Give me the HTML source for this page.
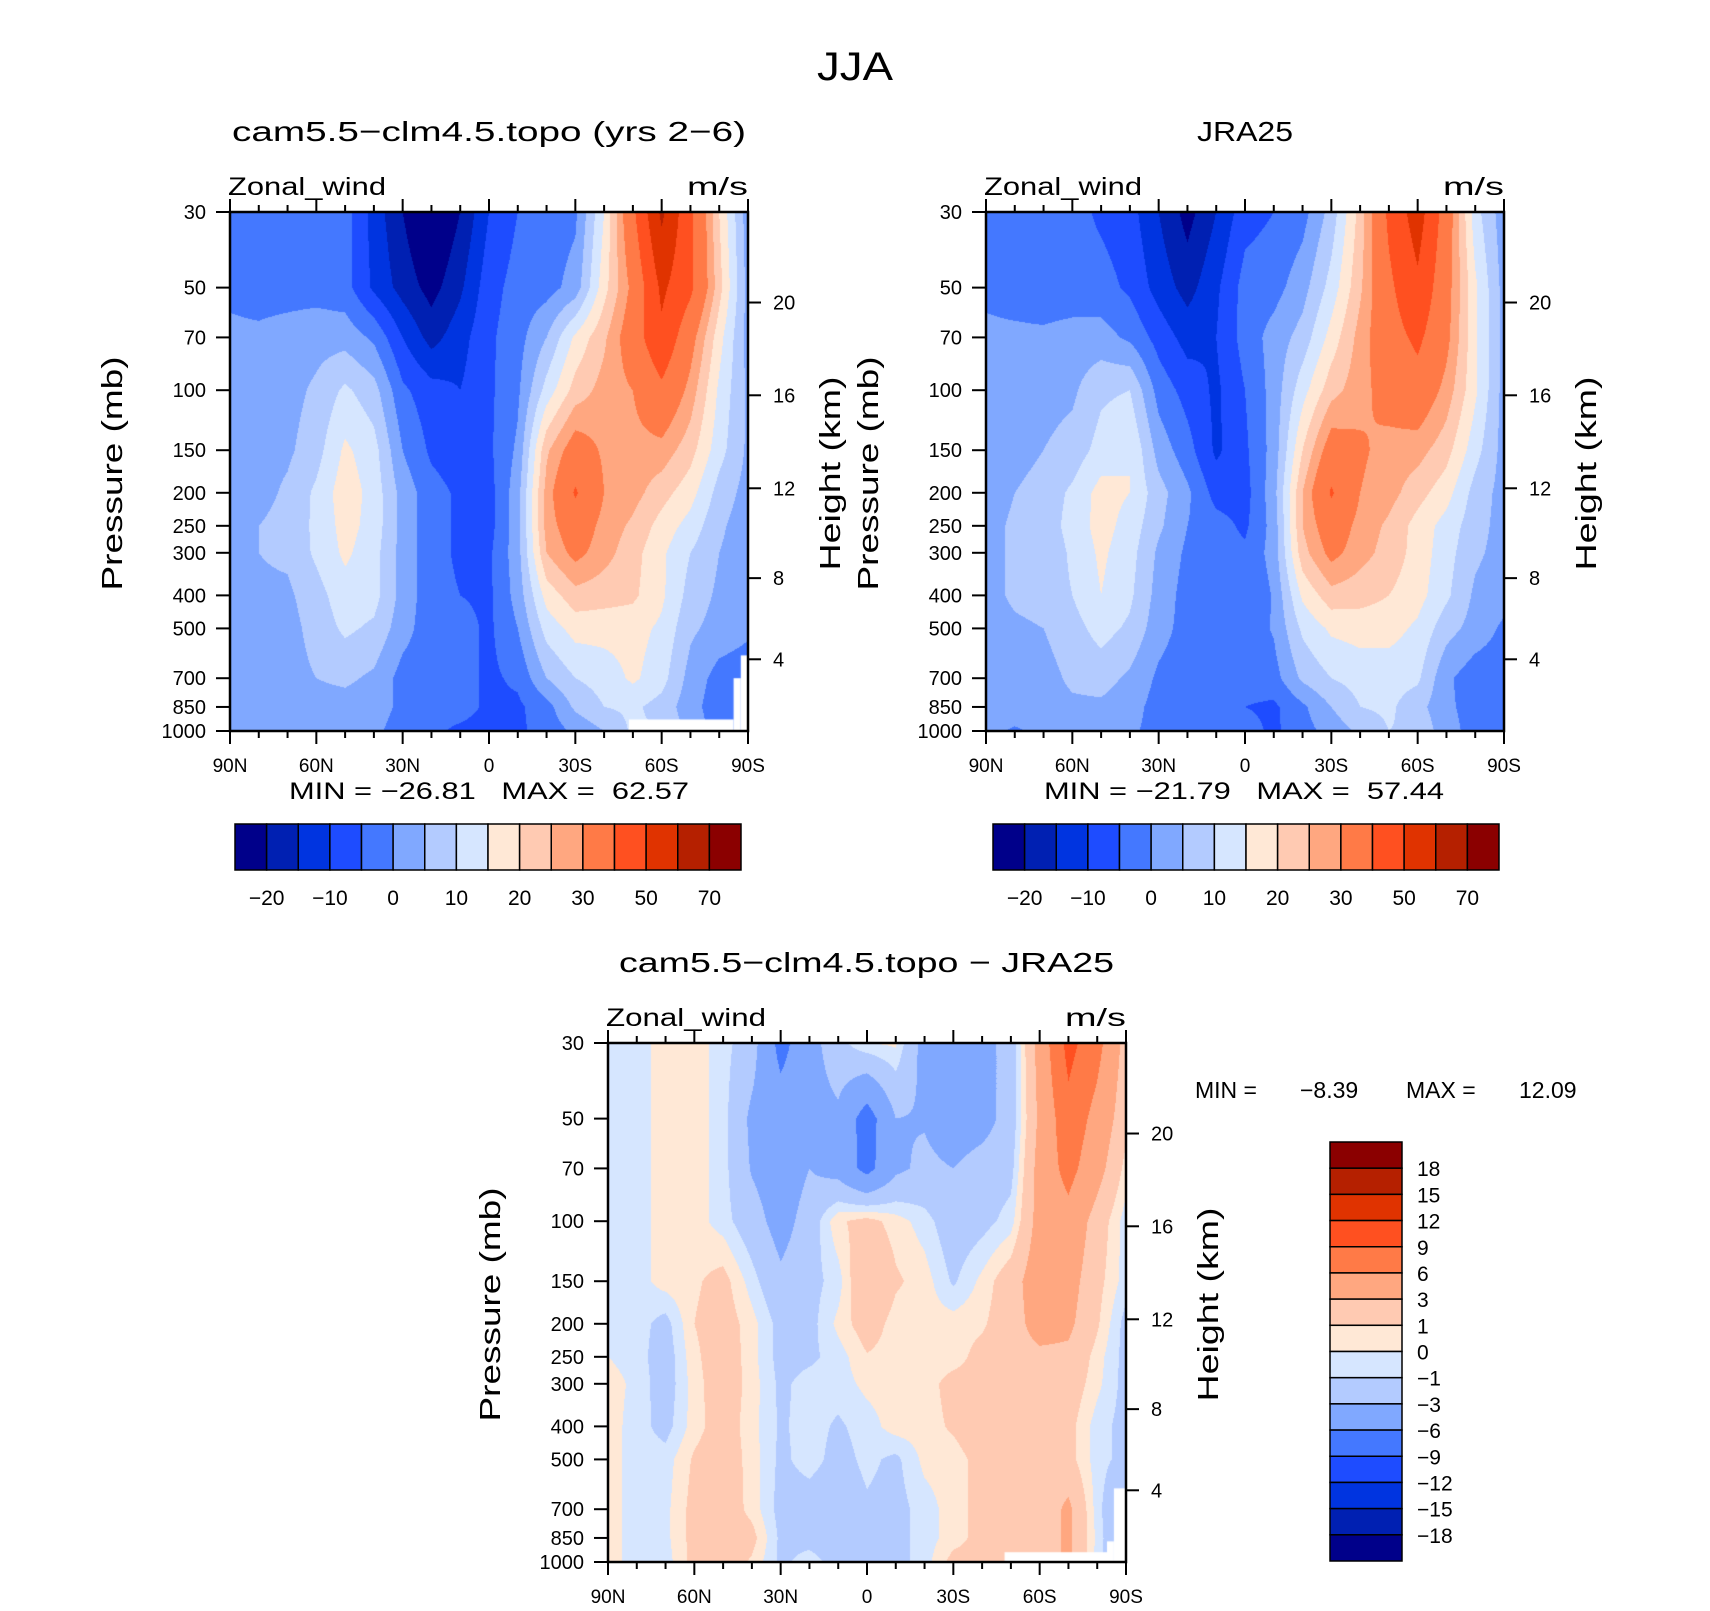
<!DOCTYPE html>
<html><head><meta charset="utf-8">
<style>
html,body{margin:0;padding:0;background:#fff;}
#wrap{position:relative;width:1710px;height:1611px;overflow:hidden;background:#fff;}
canvas{position:absolute;}
svg{position:absolute;left:0;top:0;}
text{font-family:"Liberation Sans",sans-serif;fill:#000;}
</style></head><body>
<div id="wrap">
<canvas id="c1"></canvas>
<canvas id="c2"></canvas>
<canvas id="c3"></canvas>
<svg id="ov" width="1710" height="1611">
<text x="855" y="80" text-anchor="middle" font-size="40" textLength="76" lengthAdjust="spacingAndGlyphs">JJA</text>
<text x="232" y="141" font-size="28" textLength="514" lengthAdjust="spacingAndGlyphs">cam5.5−clm4.5.topo (yrs 2−6)</text>
<text x="1197" y="141" font-size="28" textLength="96" lengthAdjust="spacingAndGlyphs">JRA25</text>
<text x="619" y="972" font-size="28" textLength="495" lengthAdjust="spacingAndGlyphs">cam5.5−clm4.5.topo − JRA25</text>
</svg>
</div>
<script>
// ---------- data ----------
const lats = [90,80,70,60,50,40,30,20,10,0,-10,-20,-30,-40,-50,-60,-70,-80,-90];
const levels = [30,50,70,100,150,200,250,300,400,500,700,850,1000];
const modelU = [
[-3,-3,-3,-3,-3,-12,-20,-27,-20,-10,-5,-3,-1,15,38,62,42,20,2],
[-1,-2,-2,-2,-3,-11,-17,-22,-16,-7,-3,-2,2,18,32,52,42,22,3],
[1,1,2,3,3,-1,-10,-17,-12,-6,-2,5,16,24,35,48,33,17,3],
[2,2,3,6,11,7,-4,-8,-10,-6,-1,12,22,27,30,38,28,14,4],
[2,3,4,8,16,12,0,-6,-8,-6,1,24,34,29,28,28,22,12,4],
[2,3,6,11,18,13,3,-3,-6,-7,3,27,41,30,27,22,17,8,3],
[2,5,7,11,17,13,3,-3,-6,-7,3,27,35,28,24,18,13,6,2],
[2,5,6,11,16,12,3,-3,-6,-6,3,25,32,27,22,16,10,5,2],
[2,4,4,8,13,12,3,-3,-5,-6,2,17,23,22,21,16,8,4,1],
[2,3,3,7,11,9,2,-3,-3,-6,0,12,17,17,17,14,6,3,1],
[2,2,3,5,6,4,-2,-3,-3,-6,-4,5,10,12,16,12,3,-2,-3],
[2,2,2,3,3,2,-1,-3,-3,-6,-6,-2,6,10,11,8,2,-3,-2],
[1,0.5,0.5,1,1,1,-2,-4,-6,-7,-6,-3,1,5,11,10,3,-2,-2]];
const obsU = [
[-3,-3,-3,-3,-6,-8,-15,-22,-15,-7,-5,-2,7,22,42,55,35,12,2],
[-1,-2,-3,-3,-3,-6,-12,-17,-11,-3,-2,3,12,24,38,48,33,16,3],
[1,1,1,2,2,-1,-7,-12,-10,-3,2,7,17,27,36,42,32,16,3],
[2,3,3,4,9,10,-2,-7,-11,-5,2,13,23,28,33,36,28,16,3],
[2,3,5,7,12,15,3,-3,-11,-6,2,20,34,31,28,27,22,12,3],
[2,5,7,11,17,15,7,1,-7,-7,3,25,41,30,27,22,17,8,3],
[3,6,7,12,17,13,6,0,-3,-6,2,25,35,28,24,18,13,7,3],
[3,6,6,11,16,12,4,-1,-3,-4,2,23,32,27,23,18,12,6,3],
[3,6,7,10,15,11,3,-2,-3,-5,0.5,16,23,22,20,17,11,4,2],
[2,4,5,8,12,9,2,-2,-3,-3,0.5,11,16,17,17,14,7,3,-1],
[2,3,3,6,7,4,-1,-3,-3,-3,-2,6,10,12,12,11,1,-3,-3],
[2,2,3,4,4,2,-2,-3,-2,-5,-6,-1,5,10,11,7,1,-2,-3],
[1,-0.5,1,2,2,1,-2,-3,-2,-3,-6,-2,2,6,10,9,2,-2,-3]];
const diffU = [
[-0.5,-0.5,0.5,0.5,-0.5,-2,-7,-4,-1.5,0,0.2,-4,-4.5,-4,-2,4,10,7,2],
[-0.5,-0.5,0.5,0.5,-0.5,-3.5,-4.5,-4,-3.5,-7.5,-3,-3.2,-4.5,-4,-2,3.5,8,5,1.5],
[-0.5,-0.5,0.5,0.5,-0.5,-3.2,-4.5,-3,-4,-7,-3.5,-2.5,-3,-2,-1.5,4,7,4,0.5],
[-0.5,-0.5,0.5,0.5,-0.5,-2,-4,-2,0.8,1.5,0.5,-0.5,-2,-1.5,-0.5,4,5,2,-0.5],
[-0.5,-0.5,0.5,0.8,1.5,-0.5,-2.5,-1.5,-0.5,3,1.2,0.5,-1.2,0.3,2,4.5,4,1.5,-0.5],
[-0.5,-0.5,-1.5,1,1.8,0.4,-1.5,-1.5,0.3,1.8,0.5,0.5,0.5,0.8,2,4,3.5,1.2,-1.5],
[0,-0.5,-1.8,0.7,2,0.4,-1.5,-1.3,-0.5,0.9,0.5,0.3,0.5,1.5,2,2.5,2.5,0.5,-1.5],
[0.5,-0.3,-1.8,0.5,2,0.5,-1.3,-0.5,-0.5,0.3,0.5,0.5,1.5,1.5,2,2.3,2,0.3,-1.5],
[0.5,-0.5,-1.5,0.5,1.8,0.4,-1.2,-0.5,-1.2,-0.5,0.5,0.5,1.2,2,2.2,2,1.5,-0.5,-1.5],
[0.5,-0.5,-0.5,1.2,2,0.5,-1.3,-0.5,-1.5,-0.7,-1.3,0.3,0.5,1.5,2,2,1.5,-0.5,-1.5],
[0.5,-0.5,-0.3,1.5,2,0.6,-1.5,-1.8,-2,-1.2,-1.5,-0.5,0.5,1.5,2,1.5,3.5,-0.5,-3.5],
[0.5,-0.5,-0.3,1.5,2,1.5,-1.3,-1.5,-2,-1.5,-1.5,-0.5,0.5,1.5,2,1.5,3.5,-0.3,-3.5],
[0.5,-0.5,-0.5,1.5,2,0.8,-1.3,-0.5,-1.5,-1.5,-1.5,-0.5,1.5,1.5,2,1.5,3.5,-0.5,-3]];
const fieldLevels = [-20,-15,-10,-5,0,5,10,15,20,25,30,40,50,60,70];
const diffLevels = [-18,-15,-12,-9,-6,-3,-1,0,1,3,6,9,12,15,18];
const palette = ["#00008a","#0020b2","#0034e0","#1e4cff","#4478ff","#80a8ff","#b3cbff","#d6e6ff","#ffe8d6","#ffcab2","#ffa780","#ff7a47","#ff5020","#e03300","#b52000","#8b0000"];
const fieldCbLabels = ["−20","−10","0","10","20","30","50","70"];
const diffCbLabels = ["18","15","12","9","6","3","1","0","−1","−3","−6","−9","−12","−15","−18"];
const latTicks = [90,60,30,0,-30,-60,-90];
const latTickLabels = ["90N","60N","30N","0","30S","60S","90S"];
const presTicks = [30,50,70,100,150,200,250,300,400,500,700,850,1000];
const heightTicks = [20,16,12,8,4];
const heightPres = [55.3,103.5,194,356,616];
const modelMissing = [[-48.6,-85,925,1000],[-85,-87.5,700,1000],[-87.5,-90,600,1000]];
const diffMissing = [[-47.8,-83.4,936,1000],[-83.4,-85.8,870,1000],[-85.8,-90,608,1000]];
const stats = [["MIN = −26.81   MAX =  62.57"],["MIN = −21.79   MAX =  57.44"]];

// ---------- panels ----------
const panels = [
 {id:"c1",key:"model",L:230,T:212,W:518,H:519,data:modelU,lev:fieldLevels,miss:modelMissing},
 {id:"c2",key:"obs",L:986,T:212,W:518,H:519,data:obsU,lev:fieldLevels,miss:[]},
 {id:"c3",key:"diff",L:608,T:1043,W:518,H:519,data:diffU,lev:diffLevels,miss:diffMissing}];
const LP0=Math.log10(30), LP1=Math.log10(1000);
function xScale(P,lat){return P.L+(90-lat)/180*P.W;}
function yScale(P,p){return P.T+(Math.log10(p)-LP0)/(LP1-LP0)*P.H;}
function hex(c){return [parseInt(c.substr(1,2),16),parseInt(c.substr(3,2),16),parseInt(c.substr(5,2),16)];}
const rgb = palette.map(hex);
const logLev = levels.map(p=>Math.log10(p));

function sample(data,lat,lp){
  let fi=(90-lat)/10; let i=Math.min(17,Math.max(0,Math.floor(fi))); let tx=fi-i;
  let j=0; while(j<11 && lp>logLev[j+1]) j++;
  let ty=(lp-logLev[j])/(logLev[j+1]-logLev[j]); ty=Math.max(0,Math.min(1,ty));
  const a=data[j][i],b=data[j][i+1],c=data[j+1][i],d=data[j+1][i+1];
  return a*(1-tx)*(1-ty)+b*tx*(1-ty)+c*(1-tx)*ty+d*tx*ty;
}
function colorIndex(v,lev){let k=0;while(k<lev.length && v>=lev[k])k++;return k;}

panels.forEach(P=>{
  const cv=document.getElementById(P.id);
  cv.width=P.W; cv.height=P.H; cv.style.left=P.L+"px"; cv.style.top=P.T+"px";
  const ctx=cv.getContext("2d"); const img=ctx.createImageData(P.W,P.H);
  for(let py=0;py<P.H;py++){
    const lp=LP0+(py+0.5)/P.H*(LP1-LP0);
    for(let px=0;px<P.W;px++){
      const lat=90-(px+0.5)/P.W*180;
      const v=sample(P.data,lat,lp);
      const c=rgb[colorIndex(v,P.lev)];
      const o=(py*P.W+px)*4; img.data[o]=c[0];img.data[o+1]=c[1];img.data[o+2]=c[2];img.data[o+3]=255;
    }
  }
  ctx.putImageData(img,0,0);
  ctx.fillStyle="#fff";
  P.miss.forEach(m=>{
    const x1=(90-m[0])/180*P.W, x2=(90-m[1])/180*P.W;
    const y1=(Math.log10(m[2])-LP0)/(LP1-LP0)*P.H;
    ctx.fillRect(x1,y1,x2-x1,P.H-y1);
  });
});

// ---------- overlay ----------
const NS="http://www.w3.org/2000/svg";
const ov=document.getElementById("ov");
function mk(tag,attrs){const e=document.createElementNS(NS,tag);for(const k in attrs)e.setAttribute(k,attrs[k]);ov.appendChild(e);return e;}
function line(x1,y1,x2,y2,w){return mk("line",{x1:x1,y1:y1,x2:x2,y2:y2,stroke:"#000","stroke-width":w});}
function txt(x,y,s,size,anchor){const t=mk("text",{x:x,y:y,"font-size":size,"text-anchor":anchor||"start"});t.textContent=s;return t;}

panels.forEach((P,pi)=>{
  const R=P.L+P.W,B=P.T+P.H;
  const fr=mk("rect",{x:P.L,y:P.T,width:P.W,height:P.H,fill:"none",stroke:"#000","stroke-width":2.5});
  
  
  for(let lat=90;lat>=-90;lat-=10){
    const x=xScale(P,lat); const major=(lat%30===0); const len=major?13:7;
    const tb=line(x,B,x,B+len,2);
    
    
    const tt=line(x,P.T,x,P.T-len,2);
    
    
  }
  latTicks.forEach((lat,k)=>{
    const t=txt(xScale(P,lat),B+41,latTickLabels[k],19,"middle");
    
    
  });
  presTicks.forEach(p=>{
    const y=yScale(P,p);
    const l=line(P.L-14,y,P.L,y,2);
    
    
    const t=txt(P.L-24,y+7,String(p),20,"end");
    
    
  });
  heightTicks.forEach((h,k)=>{
    const y=yScale(P,heightPres[k]);
    const l=line(R,y,R+13,y,2);
    
    
    const t=txt(R+25,y+7,String(h),20,"start");
    
    
  });
  const zw=txt(P.L-2,P.T-17,"Zonal_wind",25,"start");
  zw.setAttribute("textLength",P.key==="diff"?160:158); zw.setAttribute("lengthAdjust","spacingAndGlyphs");
  
  
  const un=txt(R,P.T-17,"m/s",25,"end");
  un.setAttribute("textLength",61); un.setAttribute("lengthAdjust","spacingAndGlyphs");
  
  
  const cy=P.T+P.H/2+2;
  const ya=txt(0,0,"Pressure (mb)",29,"middle");
  ya.setAttribute("transform","translate("+(P.L-108)+","+cy+") rotate(-90)");
  ya.setAttribute("textLength",234); ya.setAttribute("lengthAdjust","spacingAndGlyphs");
  
  
  const ha=txt(0,0,"Height (km)",29,"middle");
  ha.setAttribute("transform","translate("+(R+92)+","+cy+") rotate(-90)");
  ha.setAttribute("textLength",194); ha.setAttribute("lengthAdjust","spacingAndGlyphs");
  
  
});

// stats
[[289,689],[1044,1444]].forEach((r,k)=>{
  const t=txt(r[0],799,stats[k][0],24,"start");
  t.setAttribute("textLength",r[1]-r[0]); t.setAttribute("lengthAdjust","spacingAndGlyphs");
  t.style.whiteSpace="pre";
  
  
});
const d1=txt(1195,1098,"MIN =",23,"start");


const d2=txt(1300,1098,"−8.39",23,"start");


const d3=txt(1406,1098,"MAX =",23,"start");


const d4=txt(1519,1098,"12.09",23,"start");



// horizontal colorbars
[235,993].forEach((x0,k)=>{
  const w=506/16;
  palette.forEach((c,i)=>{
    const r=mk("rect",{x:x0+i*w,y:824,width:w,height:46,fill:c,stroke:"#000","stroke-width":1.5});
    
    
  });
  fieldCbLabels.forEach((s,i)=>{
    const t=txt(x0+(2*i+1)*w,905,s,21,"middle");
    
    
  });
});
// vertical colorbar
(function(){
  const h=419/16, x0=1330, y0=1142;
  palette.slice().reverse().forEach((c,i)=>{
    const r=mk("rect",{x:x0,y:y0+i*h,width:72,height:h,fill:c,stroke:"#000","stroke-width":1.5});
    
    
  });
  diffCbLabels.forEach((s,i)=>{
    const t=txt(1417,y0+(i+1)*h+8,s,21,"start");
    
    
  });
})();
</script>
</body></html>
